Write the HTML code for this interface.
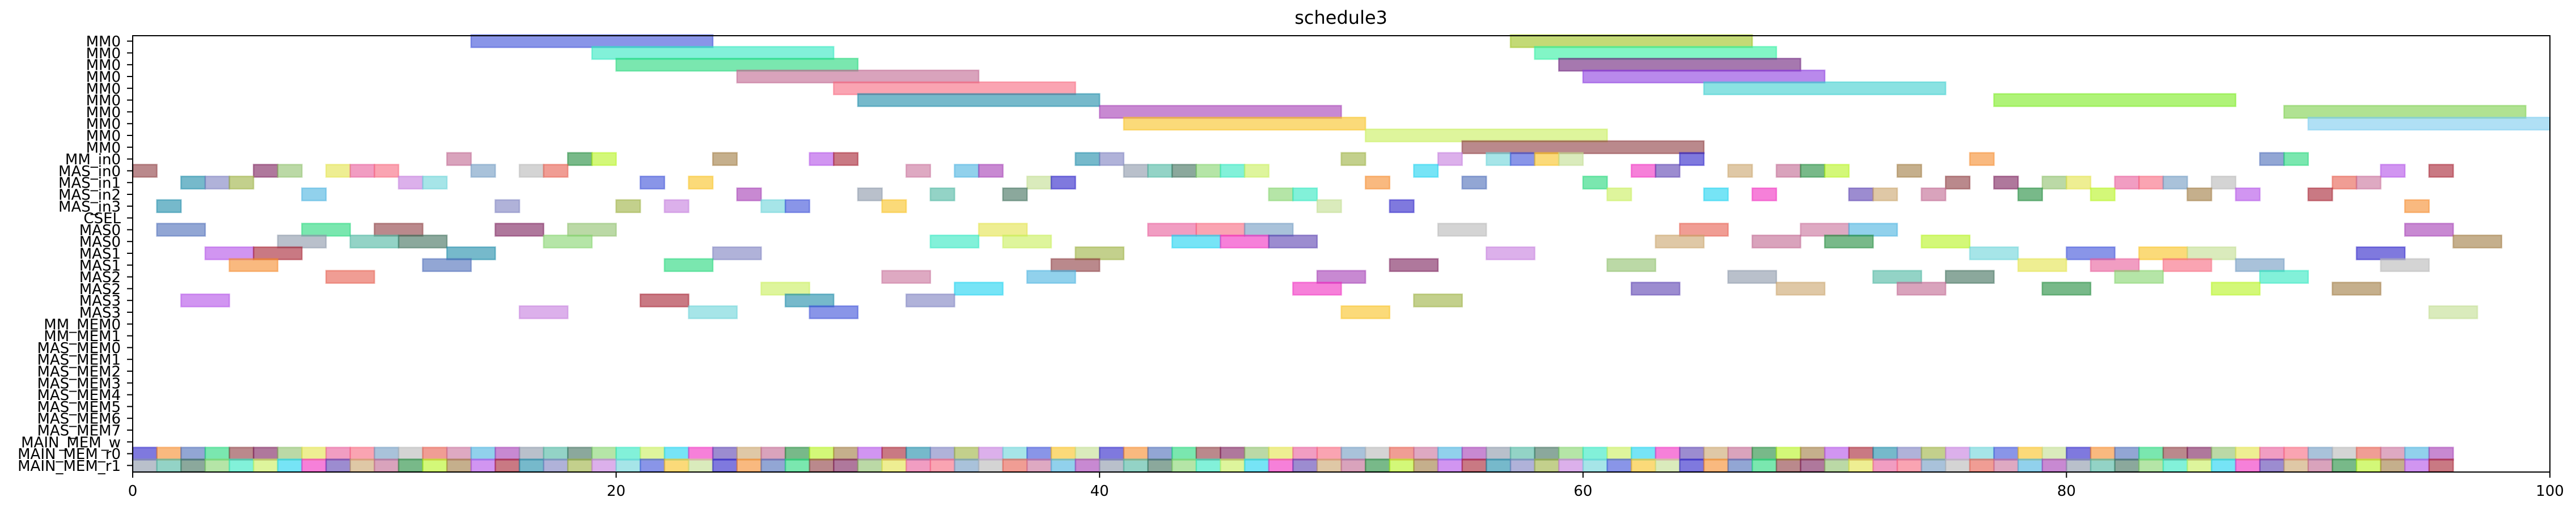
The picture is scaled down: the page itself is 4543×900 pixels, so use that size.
<!DOCTYPE html>
<html><head><meta charset="utf-8"><title>schedule3</title>
<style>
html,body{margin:0;padding:0;background:#fff;}
svg{display:block;font-family:"DejaVu Sans","Liberation Sans",sans-serif;}
</style></head>
<body>
<svg id="chart" width="4543" height="900" viewBox="0 0 4543 900" xmlns="http://www.w3.org/2000/svg">
<text x="2365" y="42" font-size="32" text-anchor="middle">schedule3</text>
<g id="bars"></g>
<g id="axes"></g>
</svg>
<script>
const rowLabels = ["MM0","MM0","MM0","MM0","MM0","MM0","MM0","MM0","MM0","MM0","MM_in0","MAS_in0","MAS_in1","MAS_in2","MAS_in3","CSEL","MAS0","MAS0","MAS1","MAS1","MAS2","MAS2","MAS3","MAS3","MM_MEM0","MM_MEM1","MAS_MEM0","MAS_MEM1","MAS_MEM2","MAS_MEM3","MAS_MEM4","MAS_MEM5","MAS_MEM6","MAS_MEM7","MAIN_MEM_w","MAIN_MEM_r0","MAIN_MEM_r1"];
const xTicks = [0,20,40,60,80,100];
// MM0 rows 0..9: start times, duration 10
const mmStarts = [[14,57],[19,58],[20,59],[25,60],[29,65],[30,77],[40,89],[41,90],[51],[55]];
const mmDur = 10;
// rows 10..15: unit-length tasks
const inStarts = [
 [13,18,19,24,28,29,39,40,50,54,56,57,58,59,64,76,88,89],
 [0,5,6,8,9,10,14,16,17,32,34,35,41,42,43,44,45,46,53,62,63,66,68,69,70,73,93,95],
 [2,3,4,11,12,21,23,37,38,51,55,60,75,77,79,80,82,83,84,86,91,92],
 [7,25,30,33,36,47,48,61,65,67,71,72,74,78,81,85,87,90],
 [1,15,20,22,26,27,31,49,52,94],
 []
];
const inDur = 1;
// rows 16..23: MAS tasks of length 2
const masStarts = [
 [1,7,10,15,18,35,42,44,46,54,64,69,71,94],
 [6,9,11,17,33,36,43,45,47,63,67,70,74,96],
 [3,5,13,24,39,56,76,80,83,85,92],
 [4,12,22,38,52,61,78,81,84,87,93],
 [8,31,37,49,66,72,75,82,88],
 [26,34,48,62,68,73,79,86,91],
 [2,21,27,32,53],
 [16,23,28,50,95]
];
const masDur = 2;
// main memory reads: count of unit blocks in rows r0 / r1
const mainMemBlocks = [96, 96];

const X0 = 234, X1 = 4497, YT = 63, YB = 833, ROW0 = 72.6, ROWH = 20.8;
function xs(t){ return X0 + (X1 - X0) * t / 100; }
function ys(i){ return ROW0 + ROWH * i; }

const palette = ["#3b4fd8","#2ee8c0","#22d77a","#c0668f","#f7687e","#1a8aa8","#a43bb4","#f9c21f","#c8ef5a","#8c3b3f",
 "#1e8a3a","#6f9ac2","#7b7fc0","#8a96a8","#c2dd8f","#1ad2f0","#7a1e5a","#b5f41e","#b8b8b8","#9bb040",
 "#4bb5a0","#2a20c8","#f02bc0","#8ec06a","#9f7a40","#e65c4c","#c47bde","#3e6e5a","#f58a2a","#5a3fb0",
 "#e3e34a","#b24fe8","#c86f99","#6ad4d8","#84d46c","#4a6ab8","#c9a36a","#e75b9a","#a52030","#47b2e0"];
const svgNS = "http://www.w3.org/2000/svg";
const barsG = document.getElementById('bars');
const axesG = document.getElementById('axes');
let cIdx = 0;
function addBar(row, start, dur, name){
  const col = palette[(cIdx * 7 + 3) % palette.length];
  cIdx++;
  const r = document.createElementNS(svgNS, 'rect');
  r.setAttribute('x', xs(start));
  r.setAttribute('y', ys(row) - 11);
  r.setAttribute('width', xs(start + dur) - xs(start));
  r.setAttribute('height', 22);
  r.setAttribute('fill', col);
  r.setAttribute('fill-opacity', '0.6');
  r.setAttribute('stroke', col);
  r.setAttribute('stroke-opacity', '0.5');
  r.setAttribute('stroke-width', '2.5');
  
  
  barsG.appendChild(r);
}
const mmCols = ["#3b4fd8","#2ee8c0","#22d77a","#c0668f","#f7687e","#1a8aa8","#a43bb4","#f9c21f","#c8ef5a","#8c3b3f"];
mmStarts.forEach((arr, i) => arr.forEach(s => {
  const r = document.createElementNS(svgNS, 'rect');
  const col = s > 55 && i < 8 ? ["#9bc11a","#2ef0a0","#6a1e7a","#8a3ae0","#3ccfcf","#7aeb1e","#7ccf4a","#7ccbef"][i] : mmCols[i];
  r.setAttribute('x', xs(s)); r.setAttribute('y', ys(i) - 11);
  r.setAttribute('width', xs(s + mmDur) - xs(s)); r.setAttribute('height', 22);
  r.setAttribute('fill', col); r.setAttribute('fill-opacity', '0.6');
  r.setAttribute('stroke', col); r.setAttribute('stroke-opacity', '0.5'); r.setAttribute('stroke-width', '2.5');
  
  
  barsG.appendChild(r);
}));
inStarts.forEach((arr, k) => arr.forEach(s => addBar(10 + k, s, inDur, 'input-task-bar')));
masStarts.forEach((arr, k) => arr.forEach(s => addBar(16 + k, s, masDur, 'mas-task-bar')));
mainMemBlocks.forEach((n, k) => { for (let s = 0; s < n; s++) addBar(35 + k, s, 1, 'main-mem-block'); });

// axes frame
const frame = document.createElementNS(svgNS, 'rect');
frame.setAttribute('x', X0); frame.setAttribute('y', YT);
frame.setAttribute('width', X1 - X0); frame.setAttribute('height', YB - YT);
frame.setAttribute('fill', 'none'); frame.setAttribute('stroke', '#000'); frame.setAttribute('stroke-width', '2');


axesG.appendChild(frame);

rowLabels.forEach((lab, i) => {
  const y = ys(i);
  const t = document.createElementNS(svgNS, 'line');
  t.setAttribute('x1', X0 - 10); t.setAttribute('x2', X0); t.setAttribute('y1', y); t.setAttribute('y2', y);
  t.setAttribute('stroke', '#000'); t.setAttribute('stroke-width', '2');
  
  
  axesG.appendChild(t);
  const tx = document.createElementNS(svgNS, 'text');
  tx.setAttribute('x', X0 - 21); tx.setAttribute('y', y + 9.5);
  tx.setAttribute('font-size', '26'); tx.setAttribute('text-anchor', 'end');
  tx.textContent = lab;
  
  
  axesG.appendChild(tx);
});
xTicks.forEach(v => {
  const x = xs(v);
  const t = document.createElementNS(svgNS, 'line');
  t.setAttribute('x1', x); t.setAttribute('x2', x); t.setAttribute('y1', YB); t.setAttribute('y2', YB + 10);
  t.setAttribute('stroke', '#000'); t.setAttribute('stroke-width', '2');
  
  
  axesG.appendChild(t);
  const tx = document.createElementNS(svgNS, 'text');
  tx.setAttribute('x', x); tx.setAttribute('y', YB + 42);
  tx.setAttribute('font-size', '26'); tx.setAttribute('text-anchor', 'middle');
  tx.textContent = v;
  
  
  axesG.appendChild(tx);
});
</script>
</body></html>
